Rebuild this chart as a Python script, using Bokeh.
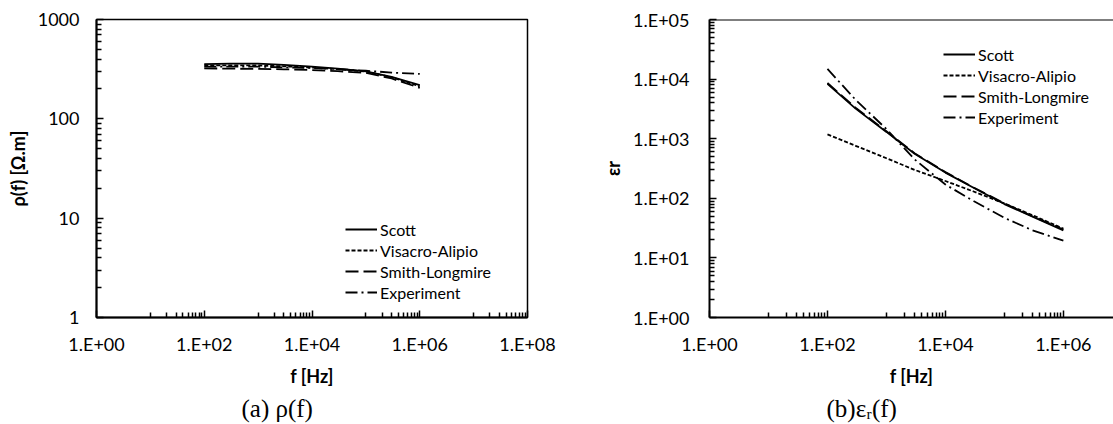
from bokeh.plotting import figure
from bokeh.layouts import row
from bokeh.models import (Range1d, FixedTicker, Legend, LegendItem, Span, Title,
                          CustomJSTickFormatter)
from bokeh.embed import file_html
from bokeh.resources import INLINE

# ---------------- data ----------------
freq = [1e2, 3e2, 1e3, 3e3, 1e4, 3e4, 1e5, 3e5, 1e6]

# (a) resistivity rho(f) [Ohm.m]
rho_scott = [355, 360, 360, 350, 335, 320, 300, 265, 218]
rho_visacro = [345, 345, 345, 338, 328, 316, 300, 262, 212]
rho_smith = [322, 320, 318, 315, 310, 302, 290, 255, 205]
rho_exp = [335, 335, 335, 330, 325, 316, 305, 292, 283]

# (b) relative permittivity eps_r(f)
eps_scott = [8300, 3200, 1300, 560, 270, 150, 80, 49, 29]
eps_visacro = [1180, 760, 470, 300, 195, 130, 82, 52, 31]
eps_smith = [8600, 3300, 1330, 570, 275, 152, 82, 50, 30]
eps_exp = [14800, 4500, 1450, 450, 170, 90, 47, 29, 19.5]

series_names = ["Scott", "Visacro-Alipio", "Smith-Longmire", "Experiment"]

xa_ticks = [1, 1e2, 1e4, 1e6, 1e8]
xa_labels = ["1.E+00", "1.E+02", "1.E+04", "1.E+06", "1.E+08"]
ya_ticks = [1, 10, 100, 1000]
ya_labels = ["1", "10", "100", "1000"]
yb_ticks = [1, 10, 100, 1e3, 1e4, 1e5]
yb_labels = ["1.E+00", "1.E+01", "1.E+02", "1.E+03", "1.E+04", "1.E+05"]

captions = ["(a) ρ(f)", "(b)εᵣ(f)"]

# ---------------- styling ----------------
FONT = "Lato"
dashes = ["solid", "4 2", "13 5", "12 4 2 4"]
LW = 1.8

x_minor = [10 ** (2 * k + 1) * m for k in range(4) for m in range(1, 10)]
y_minor = [10 ** k * m for k in range(5) for m in range(2, 10)]


def fmt(vals, labs):
    return CustomJSTickFormatter(
        args=dict(vals=vals, labs=labs),
        code="""
        for (let i = 0; i < vals.length; i++) {
            if (Math.abs(Math.log10(vals[i]) - Math.log10(tick)) < 1e-6) return labs[i];
        }
        return '';
        """)


def style_axes(p):
    for ax in (p.xaxis[0], p.yaxis[0]):
        ax.axis_line_width = 2
        ax.axis_line_color = "black"
        ax.major_tick_in = 7
        ax.major_tick_out = 0
        ax.minor_tick_in = 5
        ax.minor_tick_out = 0
        ax.major_tick_line_color = "black"
        ax.minor_tick_line_color = "black"
        ax.major_tick_line_width = 1.5
        ax.minor_tick_line_width = 1.5
        ax.major_label_text_font = FONT
        ax.major_label_text_font_size = "18px"
        ax.major_label_text_color = "black"
        ax.axis_label_text_font = FONT
        ax.axis_label_text_font_size = "18px"
        ax.axis_label_text_font_style = "bold"
        ax.axis_label_text_color = "black"
    p.xgrid.visible = False
    p.ygrid.visible = False


def add_lines(p, ys, loc):
    items = []
    for name, y, d in zip(series_names, ys, dashes):
        r = p.line(freq, y, line_color="black", line_width=LW, line_dash=d)
        items.append(LegendItem(label=name, renderers=[r]))
    leg = Legend(items=items, location=loc, border_line_color=None,
                 background_fill_alpha=0, padding=0, margin=0, spacing=1,
                 label_height=20, glyph_height=20, glyph_width=32,
                 label_standoff=3, label_text_font=FONT,
                 label_text_font_size="16px", label_text_color="black")
    p.add_layout(leg)


def add_caption(p, text, offset):
    p.add_layout(Title(text=text, align="left", offset=offset, standoff=6,
                       text_font="Liberation Serif", text_font_size="25px",
                       text_font_style="normal", text_color="black"), "below")


# ---------------- (a) ----------------
p1 = figure(width=560, height=424, x_axis_type="log", y_axis_type="log",
            x_range=Range1d(1, 1e8), y_range=Range1d(1, 1000),
            output_backend="svg", toolbar_location=None,
            min_border_left=96, min_border_right=33, min_border_top=18,
            min_border_bottom=106)
p1.outline_line_color = "black"
p1.outline_line_width = 1.5
p1.outline_line_alpha = 1
style_axes(p1)
p1.xaxis.ticker = FixedTicker(ticks=xa_ticks, minor_ticks=x_minor)
p1.xaxis.formatter = fmt(xa_ticks, xa_labels)
p1.yaxis.ticker = FixedTicker(ticks=ya_ticks, minor_ticks=y_minor)
p1.yaxis.formatter = fmt(ya_ticks, ya_labels)
p1.xaxis.axis_label = "f [Hz]"
p1.yaxis.axis_label = "ρ(f) [Ω.m]"
p1.xaxis.major_label_standoff = 15
p1.xaxis.axis_label_standoff = 7
p1.yaxis.major_label_standoff = 17
p1.yaxis.axis_label_standoff = 6
add_lines(p1, [rho_scott, rho_visacro, rho_smith, rho_exp], (249, 15))
add_caption(p1, captions[0], 145)

# ---------------- (b) ----------------
p2 = figure(width=553, height=424, x_axis_type="log", y_axis_type="log",
            x_range=Range1d(1, 10 ** 6.85), y_range=Range1d(1, 1e5),
            output_backend="svg", toolbar_location=None,
            min_border_left=149, min_border_right=0, min_border_top=19,
            min_border_bottom=107)
p2.outline_line_color = None
style_axes(p2)
p2.xaxis.ticker = FixedTicker(ticks=xa_ticks, minor_ticks=x_minor)
p2.xaxis.formatter = fmt(xa_ticks, xa_labels)
p2.yaxis.ticker = FixedTicker(ticks=yb_ticks, minor_ticks=y_minor)
p2.yaxis.formatter = fmt(yb_ticks, yb_labels)
p2.xaxis.axis_label = "f [Hz]"
p2.yaxis.axis_label = "εr"
p2.xaxis.major_label_standoff = 15
p2.xaxis.axis_label_standoff = 7
p2.yaxis.major_label_standoff = 20
p2.yaxis.axis_label_standoff = 6
p2.add_layout(Span(location=1e5, dimension="width", line_color="black", line_width=2))
add_lines(p2, [eps_scott, eps_visacro, eps_smith, eps_exp], (234, 190))
add_caption(p2, captions[1], 117)

layout = row(p1, p2)
open("out.html", "w").write(file_html(layout, INLINE))
